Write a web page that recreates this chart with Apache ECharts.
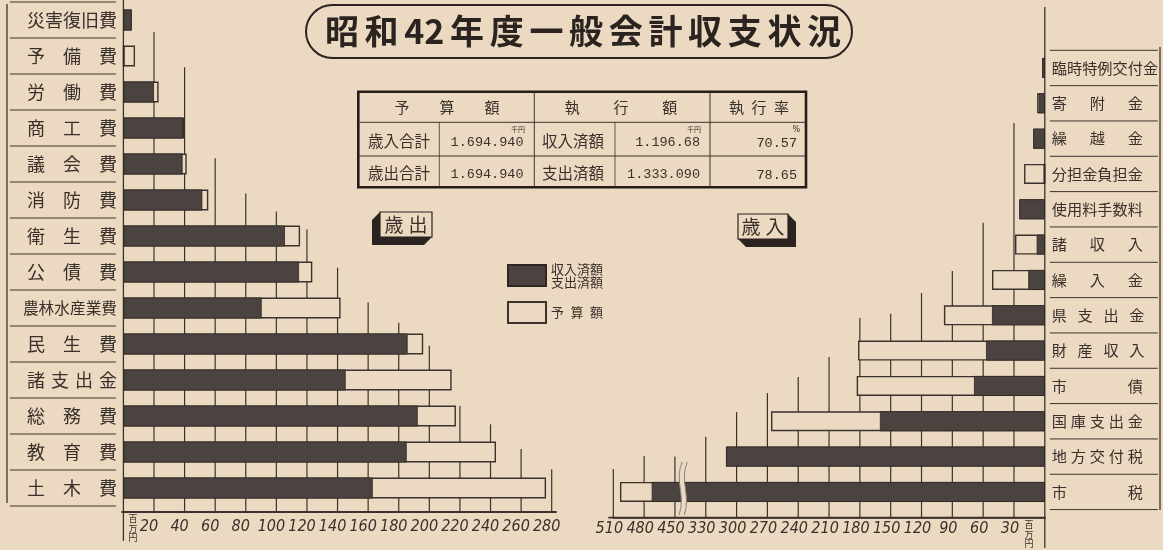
<!DOCTYPE html>
<html><head><meta charset="utf-8">
<script src="https://cdn.jsdelivr.net/npm/echarts@6/dist/echarts.min.js"></script>
<style>html,body{margin:0;padding:0;background:#ebdac1}#c{width:1163px;height:550px}</style>
</head><body><div id="c"></div>
<script>
// ---- data (百万円) ----
const expenseCategories = ['災害復旧費','予備費','労働費','商工費','議会費','消防費','衛生費','公債費','農林水産業費','民生費','諸支出金','総務費','教育費','土木費'];
const expenseBudget = [5.5, 7.6, 23, 39.8, 41.4, 55.5, 115.5, 123.5, 142, 196, 214.6, 217.4, 243.6, 276.3];
const expenseSpent  = [5.4, 0, 20, 39.2, 38.7, 51.6, 105.6, 114.8, 90.4, 185.8, 145.3, 192.4, 185.2, 163];
const expenseTicks  = [20,40,60,80,100,120,140,160,180,200,220,240,260,280];

const revenueCategories = ['臨時特例交付金','寄附金','繰越金','分担金負担金','使用料手数料','諸収入','繰入金','県支出金','財産収入','市債','国庫支出金','地方交付税','市税'];
const revenueBudget   = [2.5, 7.5, 11.2, 20.2, 24.8, 29, 51.4, 98.2, 181.8, 183.1, 266.5, 310.3, 503.5];
const revenueReceived = [2.5, 6, 11.2, 0, 24.8, 7.9, 16.1, 51.4, 57.2, 68.9, 160.5, 310.3, 472.6];
const revenueTicks    = [30,60,90,120,150,180,210,240,270,300,330,450,480,510];
const revenueBreak    = [330, 450];

const tableHeader = ['予算額','執行額','執行率'];
const tableRowLabels = ['歳入合計','歳出合計'];
const tableBudget = ['1.694.940','1.694.940'];
const tableExecLabels = ['収入済額','支出済額'];
const tableExec = ['1.196.68','1.333.090'];
const tableRate = ['70.57','78.65'];
const titleText = '昭和42年度一般会計収支状況';

// ---- decorative: how far up each tick line reaches (in row units) ----
const expenseLineReach = [0.33,1.31,3.84,4.82,5.32,5.82,6.88,7.85,8.41,9.05,10.72,11.23,11.92,12.48];
const revenueLineReach = [1.56,4.38,5.75,6.37,6.96,7.08,8.18,8.75,9.20,9.74,10.44,11.0,10.98,11.35];

// ---- styles ----
const BG = '#ebdac1', INK = '#3a302b', DARK = '#4a433f', LINE = '#3b322d';
const CJK = "'Noto Sans CJK JP','Noto Sans CJK SC',sans-serif";
const NUM = "'Liberation Sans Narrow','DejaVu Sans Condensed','Liberation Sans',sans-serif";
const MONO = "'Liberation Mono','DejaVu Sans Mono',monospace";

// axis break mapping for revenue axis
const gapSpan = revenueBreak[1] - revenueBreak[0];
const breakShown = 30;
function toAxis(v){ if (v <= revenueBreak[0]) return v; if (v >= revenueBreak[1]) return v - gapSpan + breakShown; return revenueBreak[0] + (v - revenueBreak[0]) * breakShown / gapSpan; }
function fromAxis(d){ return d <= revenueBreak[0] ? d : d + gapSpan - breakShown; }

const L = {left:123.4, top:2, width:428.3, height:504, off:6};
const R = {left:613.3, top:50.3, width:431.5, height:459.3, off:8};
const LBase = L.top + L.height + L.off, RBase = R.top + R.height + R.off;

function spreadLeft(n){
  if (n.length === 3) return n.split('').join('\u3000');
  if (n.length === 4) return n.split('').join('\u2004');
  if (n.length >= 6) return '{s|' + n + '}';
  return n;
}
function spreadRight(n){
  const g = {2:'\u3000\u3000\u3000\u3000', 3:'\u3000\u2002', 4:'\u2002\u2009', 5:'\u2005'}[n.length] || '';
  return n.split('').join(g);
}

function tickLines(off){
  return function(params, api){
    const cs = params.coordSys;
    const p = api.coord([api.value(0), api.value(1)]);
    return {type:'line', shape:{x1:p[0], y1:p[1], x2:p[0], y2:cs.y + cs.height + off}, style:{stroke:LINE, lineWidth:1.2}};
  };
}
function separators(side){
  return function(params, api){
    const cs = params.coordSys;
    const y = api.coord([0, api.value(0)])[1];
    const x1 = side === 'left' ? cs.x - 113.4 : cs.x + cs.width + 5;
    const x2 = side === 'left' ? cs.x - 7.4 : cs.x + cs.width + 113;
    return {type:'line', shape:{x1, y1:y, x2, y2:y}, style:{stroke:LINE, lineWidth:1}};
  };
}

const option = {
  backgroundColor: BG,
  animation: false,
  grid: [
    {left:L.left, top:L.top, width:L.width, height:L.height, outerBoundsMode:'none'},
    {left:R.left, top:R.top, width:R.width, height:R.height, outerBoundsMode:'none'}
  ],
  xAxis: [
    {type:'value', gridIndex:0, min:0, max:280, interval:20, offset:L.off, position:'bottom',
     axisLine:{show:true, onZero:false, lineStyle:{color:LINE, width:1.5}}, axisTick:{show:false}, splitLine:{show:false},
     axisLabel:{margin:7, color:INK, fontSize:16, fontStyle:'italic', fontFamily:NUM, padding:[0,10,0,0],
       formatter: v => v === 0 ? '' : String(v)}},
    {type:'value', gridIndex:1, min:0, max:toAxis(510), interval:30, inverse:true, offset:R.off, position:'bottom',
     axisLine:{show:true, onZero:false, lineStyle:{color:LINE, width:1.5}}, axisTick:{show:false}, splitLine:{show:false},
     axisLabel:{margin:3, color:INK, fontSize:16, fontStyle:'italic', fontFamily:NUM, padding:[0,8,0,0],
       formatter: v => v === 0 ? '' : String(fromAxis(v))}}
  ],
  yAxis: [
    {type:'category', gridIndex:0, data:expenseCategories, inverse:true, position:'left',
     axisLine:{show:false, onZero:false}, axisTick:{show:false},
     axisLabel:{interval:0, margin:6.4, color:INK, fontSize:18, fontFamily:CJK, formatter:spreadLeft,
       rich:{s:{fontSize:15.7, fontFamily:CJK, color:INK}}}},
    {type:'value', gridIndex:0, min:-0.5, max:13.5, inverse:true, show:false, axisLine:{onZero:false}},
    {type:'category', gridIndex:1, data:revenueCategories, inverse:true, position:'right',
     axisLine:{show:false, onZero:false}, axisTick:{show:false},
     axisLabel:{interval:0, margin:7, align:'left', color:INK, fontSize:15.2, fontFamily:CJK, formatter:spreadRight}},
    {type:'value', gridIndex:1, min:-0.5, max:12.5, inverse:true, show:false, axisLine:{onZero:false}}
  ],
  legend: {
    orient:'vertical', left:507, top:262, padding:0, itemWidth:38, itemHeight:21, itemGap:12, icon:'rect', selectedMode:false,
    data:['執行額','予算額'],
    formatter: n => n === '執行額' ? '収入済額\n支出済額' : '予\u2002算\u2002額',
    textStyle:{color:INK, fontSize:13, lineHeight:13.5, fontFamily:CJK}
  },
  series: [
    {type:'custom', xAxisIndex:0, yAxisIndex:1, z:1, silent:true, renderItem:tickLines(L.off),
     data: expenseTicks.map((t,i)=>[t, expenseLineReach[i]])},
    {type:'custom', xAxisIndex:0, yAxisIndex:1, z:1, silent:true, renderItem:separators('left'),
     data: expenseCategories.map((c,i)=>[i-0.5]).concat([[expenseCategories.length-0.5]])},
    {name:'予算額', type:'bar', xAxisIndex:0, yAxisIndex:0, data:expenseBudget, barWidth:21, barGap:'-100%', z:3,
     itemStyle:{color:BG, borderColor:LINE, borderWidth:1.4}},
    {name:'執行額', type:'bar', xAxisIndex:0, yAxisIndex:0, data:expenseSpent, barWidth:21, barGap:'-100%', z:4,
     itemStyle:{color:DARK, borderColor:'#2d2622', borderWidth:0.8}},

    {type:'custom', xAxisIndex:1, yAxisIndex:3, z:1, silent:true, renderItem:tickLines(R.off),
     data: revenueTicks.map((t,i)=>[toAxis(t), revenueLineReach[i]])},
    {type:'custom', xAxisIndex:1, yAxisIndex:3, z:1, silent:true, renderItem:separators('right'),
     data: revenueCategories.map((c,i)=>[i-0.5]).concat([[revenueCategories.length-0.5]])},
    {name:'予算額', type:'bar', xAxisIndex:1, yAxisIndex:2, data:revenueBudget.map(toAxis), barWidth:20, barGap:'-100%', z:3,
     itemStyle:{color:BG, borderColor:LINE, borderWidth:1.4}},
    {name:'執行額', type:'bar', xAxisIndex:1, yAxisIndex:2, data:revenueReceived.map(toAxis), barWidth:20, barGap:'-100%', z:4,
     itemStyle:{color:DARK, borderColor:'#2d2622', borderWidth:0.8}},
    // break mark across the bar that crosses the axis break
    {type:'custom', xAxisIndex:1, yAxisIndex:3, z:6, silent:true,
     data: revenueBudget.map((v,i)=>[i, v]).filter(d => d[1] > revenueBreak[1]).map(d => [revenueBreak[0] + breakShown*0.75, d[0]]),
     renderItem:function(params, api){
       const p = api.coord([api.value(0), api.value(1)]);
       const x = p[0], y = p[1], y1 = y - 30, y2 = y + 23;
       const mk = (dx, stroke, w) => ({type:'bezierCurve',
         shape:{x1:x+dx+2, y1:y1, x2:x+dx-1, y2:y2, cpx1:x+dx-6, cpy1:y1+20, cpx2:x+dx+6, cpy2:y2-20},
         style:{stroke:stroke, lineWidth:w, fill:null}});
       return {type:'group', children:[mk(0, BG, 5), mk(-2.6, '#8a807a', 1), mk(2.6, '#8a807a', 1)]};
     }}
  ],
  graphic: [
    // axis baselines, slightly extended beyond the plot area as in the original
    {type:'rect', z:50, shape:{x:L.left-2, y:LBase-0.9, width:L.width+7, height:1.8}, style:{fill:LINE}},
    {type:'rect', z:50, shape:{x:R.left-5, y:RBase-0.9, width:R.width+6, height:1.8}, style:{fill:LINE}},
    // title
    {type:'rect', shape:{x:306, y:5, width:546, height:53, r:26.5}, style:{fill:null, stroke:'#2a2320', lineWidth:2}},
    {type:'text', x:583, y:31, style:{text:titleText.replace(/(?<=[^0-9])(?=.)|(?<=2)(?=.)/g,'\u2006'), font:"bold 34px 'Noto Sans CJK JP'", fill:'#2a2320', align:'center', verticalAlign:'middle'}},
    // frame lines
    {type:'line', shape:{x1:L.left, y1:0, x2:L.left, y2:541}, style:{stroke:LINE, lineWidth:1.3}},
    {type:'line', shape:{x1:7, y1:4, x2:7, y2:503}, style:{stroke:LINE, lineWidth:1.3}},
    {type:'line', shape:{x1:R.left+R.width, y1:7, x2:R.left+R.width, y2:548}, style:{stroke:LINE, lineWidth:1.3}},
    {type:'line', shape:{x1:1160, y1:47, x2:1160, y2:510}, style:{stroke:LINE, lineWidth:1.3}},
    // units
    {type:'text', x:133, y:514, style:{text:'百\n万\n円', font:"9px 'Noto Sans CJK JP'", lineHeight:9.5, fill:INK, align:'center'}},
    {type:'text', x:1029, y:520, style:{text:'百\n万\n円', font:"9px 'Noto Sans CJK JP'", lineHeight:9.5, fill:INK, align:'center'}},
    // summary table
    {type:'rect', shape:{x:358.3, y:91.7, width:447.7, height:95.6}, style:{fill:null, stroke:'#241d1a', lineWidth:2.6}},
    {type:'line', shape:{x1:358.3, y1:122.3, x2:806, y2:122.3}, style:{stroke:LINE, lineWidth:1}},
    {type:'line', shape:{x1:358.3, y1:156, x2:806, y2:156}, style:{stroke:LINE, lineWidth:1}},
    {type:'line', shape:{x1:534.3, y1:91.7, x2:534.3, y2:187.3}, style:{stroke:LINE, lineWidth:1}},
    {type:'line', shape:{x1:710, y1:91.7, x2:710, y2:187.3}, style:{stroke:LINE, lineWidth:1}},
    {type:'line', shape:{x1:439.3, y1:122.3, x2:439.3, y2:187.3}, style:{stroke:LINE, lineWidth:0.8}},
    {type:'line', shape:{x1:615, y1:122.3, x2:615, y2:187.3}, style:{stroke:LINE, lineWidth:0.8}},
    {type:'text', x:447, y:107, style:{text:tableHeader[0].split('').join('\u3000\u3000'), font:"15px 'Noto Sans CJK JP'", fill:INK, align:'center', verticalAlign:'middle'}},
    {type:'text', x:621, y:107, style:{text:tableHeader[1].split('').join('\u3000\u3000\u2005'), font:"15px 'Noto Sans CJK JP'", fill:INK, align:'center', verticalAlign:'middle'}},
    {type:'text', x:759, y:107, style:{text:tableHeader[2].split('').join('\u2002'), font:"15px 'Noto Sans CJK JP'", fill:INK, align:'center', verticalAlign:'middle'}},
    ...[0,1].flatMap(i => {
      const y = i === 0 ? 141 : 173;
      return [
        {type:'text', x:399, y:y, style:{text:tableRowLabels[i], font:"15.5px 'Noto Sans CJK JP'", fill:INK, align:'center', verticalAlign:'middle'}},
        {type:'text', x:523.5, y:y+1, style:{text:tableBudget[i], font:"13.5px "+MONO, fill:INK, align:'right', verticalAlign:'middle'}},
        {type:'text', x:573, y:y, style:{text:tableExecLabels[i], font:"15.5px 'Noto Sans CJK JP'", fill:INK, align:'center', verticalAlign:'middle'}},
        {type:'text', x:700, y:y+1, style:{text:tableExec[i], font:"13.5px "+MONO, fill:INK, align:'right', verticalAlign:'middle'}},
        {type:'text', x:797, y:y+2, style:{text:tableRate[i], font:"13.5px "+MONO, fill:INK, align:'right', verticalAlign:'middle'}}
      ];
    }),
    {type:'text', x:525, y:129, style:{text:'千円', font:"7px 'Noto Sans CJK JP'", fill:INK, align:'right', verticalAlign:'middle'}},
    {type:'text', x:701, y:129, style:{text:'千円', font:"7px 'Noto Sans CJK JP'", fill:INK, align:'right', verticalAlign:'middle'}},
    {type:'text', x:800, y:130, style:{text:'%', font:"8px 'DejaVu Sans'", fill:INK, align:'right', verticalAlign:'middle'}},
    // 歳出 tag
    {type:'polygon', shape:{points:[[380,212],[432,212],[432,237],[424,245],[372,245],[372,220]]}, style:{fill:'#2a2320'}},
    {type:'rect', shape:{x:380, y:212, width:52, height:25}, style:{fill:BG, stroke:'#2a2320', lineWidth:1.2}},
    {type:'text', x:406, y:225, style:{text:'歳\u2005出', font:"19px 'Noto Sans CJK JP'", fill:INK, align:'center', verticalAlign:'middle'}},
    // 歳入 tag
    {type:'polygon', shape:{points:[[738,214],[788,214],[796,222],[796,247],[746,247],[738,239]]}, style:{fill:'#2a2320'}},
    {type:'rect', shape:{x:738, y:214, width:50, height:25}, style:{fill:BG, stroke:'#2a2320', lineWidth:1.2}},
    {type:'text', x:763, y:227, style:{text:'歳\u2005入', font:"19px 'Noto Sans CJK JP'", fill:INK, align:'center', verticalAlign:'middle'}}
  ]
};
const chart = echarts.init(document.getElementById('c'), null, {renderer:'canvas'});
chart.setOption(option);
</script>
</body></html>
